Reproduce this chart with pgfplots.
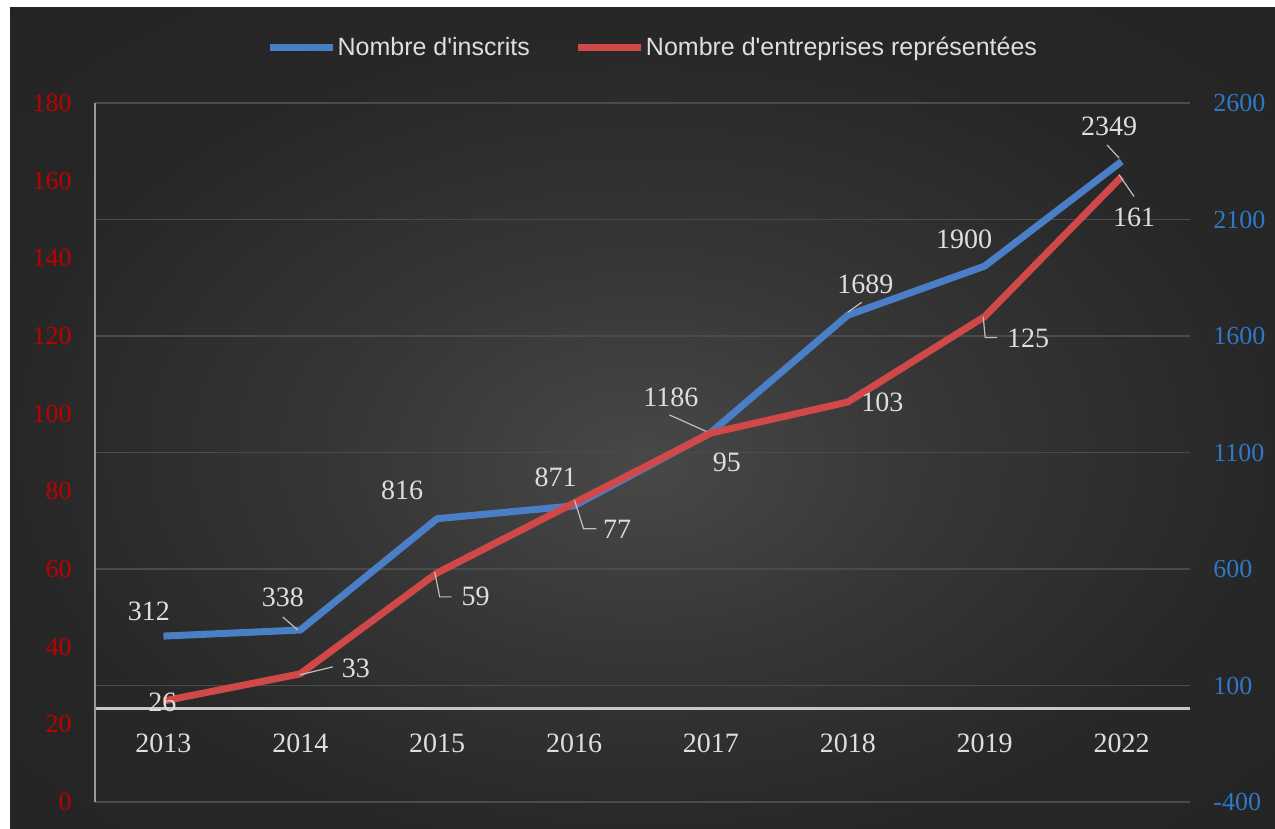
\documentclass[border=0pt]{standalone}
\usepackage{pgfplots}
\pgfplotsset{compat=1.18}
\usepackage{fontspec}
\setmainfont{Liberation Serif}
\newfontfamily\legendfont{Liberation Sans}
\definecolor{bgin}{HTML}{484848}
\definecolor{bgmid}{HTML}{363636}
\definecolor{bgout}{HTML}{272727}
\definecolor{bgcorner}{HTML}{212121}
\definecolor{serblue}{HTML}{4A7FC8}
\definecolor{serred}{HTML}{D04848}
\definecolor{tickred}{HTML}{C00000}
\definecolor{tickblue}{HTML}{2F78C8}
\definecolor{labgray}{HTML}{DEDEDE}
\definecolor{gridgray}{HTML}{4B4B4B}
\definecolor{zeroline}{HTML}{C8C8C8}
\definecolor{axgray}{HTML}{9A9A9A}
\definecolor{leadgray}{HTML}{BFBFBF}
\pgfdeclareradialshading{bgshade}{\pgfpoint{0bp}{-3bp}}{color(0bp)=(bgin); color(12bp)=(bgmid); color(25bp)=(bgout); color(50bp)=(bgcorner)}
\tikzset{
  lab/.style={text=labgray, inner sep=0pt, font=\fontsize{14}{16}\selectfont},
  leader/.style={draw=leadgray, line width=0.6pt},
}
\begin{document}
\begin{tikzpicture}
\fill[white] (0pt,0pt) rectangle (637.5pt,414.5pt);
\shade[shading=bgshade] (5pt,0pt) rectangle (637.5pt,410.5pt);
% right axis (blue)
\begin{axis}[
  at={(47.5pt,13.5pt)}, anchor=south west, scale only axis,
  width=547.5pt, height=349.5pt,
  xmin=-0.5, xmax=7.5, ymin=-400, ymax=2600,
  axis x line=none, axis y line*=right, y axis line style={draw=none},
  ytick={-400,100,600,1100,1600,2100,2600},
  yticklabels={-400,100,600,1100,1600,2100,2600},
  yticklabel style={anchor=west, inner sep=0pt, xshift=11.5pt, text=tickblue, font=\fontsize{13}{15}\selectfont},
  major tick length=0pt,
  ymajorgrids, major grid style={gridgray, line width=0.6pt},
  extra y ticks={0}, extra y tick labels={},
  extra y tick style={grid=major, major grid style={zeroline, line width=1.3pt}},
  clip=false,
]
\addplot[serblue, line width=3.5pt, line join=round] coordinates {(0,312)(1,338)(2,816)(3,871)(4,1186)(5,1689)(6,1900)(7,2349)};
\node[lab, xshift=-7.25pt, yshift=12.5pt] at (axis cs:0,312) {312};
\node[lab, xshift=-8.75pt, yshift=16.25pt] at (axis cs:1,338) {338};
\draw[leader] (axis cs:1,338) ++(-1.25pt,0pt) -- ++(-7.5pt,6.5pt);
\node[lab, xshift=-17.5pt, yshift=14pt] at (axis cs:2,816) {816};
\node[lab, xshift=-9.25pt, yshift=14.25pt] at (axis cs:3,871) {871};
\node[lab, xshift=-20pt, yshift=17.5pt] at (axis cs:4,1186) {1186};
\draw[leader] (axis cs:4,1186) ++(-1.75pt,0.25pt) -- ++(-19pt,8.5pt);
\node[lab, xshift=8.75pt, yshift=15.5pt] at (axis cs:5,1689) {1689};
\draw[leader] (axis cs:5,1689) ++(0pt,1.5pt) -- ++(7pt,5pt);
\node[lab, xshift=-10.25pt, yshift=13.5pt] at (axis cs:6,1900) {1900};
\node[lab, xshift=-6.25pt, yshift=17.75pt] at (axis cs:7,2349) {2349};
\draw[leader] (axis cs:7,2349) ++(-1.25pt,1.75pt) -- ++(-6pt,6.5pt);
\end{axis}
% left axis (red)
\begin{axis}[
  at={(47.5pt,13.5pt)}, anchor=south west, scale only axis,
  width=547.5pt, height=349.5pt,
  xmin=-0.5, xmax=7.5, ymin=0, ymax=180,
  axis x line*=bottom, x axis line style={draw=none},
  axis y line*=left, y axis line style={color=axgray, line width=0.6pt},
  xtick={0,1,2,3,4,5,6,7},
  xticklabels={2013,2014,2015,2016,2017,2018,2019,2022},
  xticklabel style={anchor=center, yshift=29.5pt, text=labgray, font=\fontsize{14}{16}\selectfont},
  ytick={0,20,40,60,80,100,120,140,160,180},
  yticklabels={0,20,40,60,80,100,120,140,160,180},
  yticklabel style={anchor=east, inner sep=0pt, xshift=-11.5pt, text=tickred, font=\fontsize{13}{15}\selectfont},
  major tick length=0pt,
  clip=false,
  legend columns=2,
  legend style={at={(0.509,1.079)}, anchor=center, draw=none, fill=none,
    text=labgray, font=\legendfont\fontsize{12.5}{14}\selectfont,
    nodes={inner sep=0.5pt},
    /tikz/every even column/.append style={column sep=22pt}},
  legend image code/.code={\draw[line width=3.5pt] (0pt,0pt) -- (31.5pt,0pt);},
]
\addlegendimage{serblue, line width=3.5pt}
\addlegendentry{Nombre d'inscrits}
\addplot[serred, line width=3.5pt, line join=round] coordinates {(0,26)(1,33)(2,59)(3,77)(4,95)(5,103)(6,125)(7,161)};
\addlegendentry{Nombre d'entreprises représentées}
\node[lab, xshift=-0.5pt, yshift=-0.75pt] at (axis cs:0,26) {26};
\node[lab, xshift=27.75pt, yshift=2.5pt] at (axis cs:1,33) {33};
\draw[leader] (axis cs:1,33) ++(-0.25pt,-0.5pt) -- ++(16.5pt,4pt);
\node[lab, xshift=19.25pt, yshift=-11.5pt] at (axis cs:2,59) {59};
\draw[leader] (axis cs:2,59) ++(-1.25pt,0.5pt) -- ++(2.5pt,-12.5pt) -- ++(6pt,0pt);
\node[lab, xshift=21.5pt, yshift=-13pt] at (axis cs:3,77) {77};
\draw[leader] (axis cs:3,77) ++(0.25pt,1.35pt) -- ++(4.5pt,-14.2pt) -- ++(6.35pt,0pt);
\node[lab, xshift=8pt, yshift=-14.75pt] at (axis cs:4,95) {95};
\node[lab, xshift=17.25pt, yshift=-0.25pt] at (axis cs:5,103) {103};
\node[lab, xshift=21.75pt, yshift=-11pt] at (axis cs:6,125) {125};
\draw[leader] (axis cs:6,125) ++(-0.75pt,0pt) -- ++(1pt,-10.5pt) -- ++(6pt,0pt);
\node[lab, xshift=6.25pt, yshift=-20.25pt] at (axis cs:7,161) {161};
\draw[leader] (axis cs:7,161) ++(-1.25pt,1pt) -- ++(7.5pt,-10.85pt);
\end{axis}
\pgfresetboundingbox
\useasboundingbox (0pt,0pt) rectangle (637.5pt,414.5pt);
\end{tikzpicture}
\end{document}
